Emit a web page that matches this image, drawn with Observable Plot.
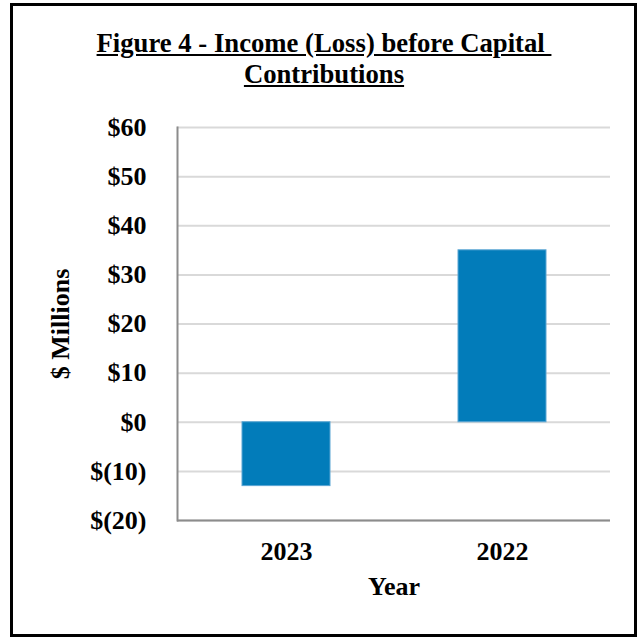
<!DOCTYPE html>
<html>
<head>
<meta charset="utf-8">
<script src="https://cdn.jsdelivr.net/npm/d3@7"></script>
<script src="https://cdn.jsdelivr.net/npm/@observablehq/plot@0.6"></script>
<style>
  html, body { margin: 0; padding: 0; background: #fff; }
  #wrap { position: relative; width: 639px; height: 637px; overflow: hidden; }
  #chart { position: absolute; left: 0; top: 0; }
  #border { position: absolute; left: 10px; top: 3px; width: 621px; height: 628px; border: 3px solid #000; pointer-events: none; }
  #title { position: absolute; left: 10px; top: 28px; width: 628px; text-align: center;
    font-family: "Liberation Serif", "Times New Roman", serif; font-weight: bold; font-size: 26.7px;
    line-height: 31px; text-decoration: underline; color: #000; }
</style>
</head>
<body>
<div id="wrap">
  <div id="chart"></div>
  <div id="title">Figure 4 - Income (Loss) before Capital&nbsp;<br>Contributions</div>
  <div id="border"></div>
</div>
<script>
const years = ["2023", "2022"];
const values = [-13, 35];
const yTicks = [-20, -10, 0, 10, 20, 30, 40, 50, 60];
const xTitle = "Year";
const yTitle = "$ Millions";

const data = years.map((year, i) => ({year, value: values[i]}));
const fmt = d => d < 0 ? `$(${-d})` : `$${d}`;

const chart = Plot.plot({
  width: 639,
  height: 637,
  marginTop: 127,
  marginBottom: 117,
  marginLeft: 177,
  marginRight: 29,
  style: {fontFamily: '"Liberation Serif", "Times New Roman", serif', fontSize: "26px", fontWeight: "bold", color: "#000", background: "transparent"},
  x: {domain: years, paddingInner: 0.594, paddingOuter: 0.297},
  y: {domain: [-20, 60]},
  marks: [
    Plot.ruleY(yTicks, {stroke: "#d9d9d9", strokeWidth: 2}),
    Plot.barY(data, {x: "year", y: "value", fill: "#027CBA", stroke: "#5AA6D4", strokeWidth: 1}),
    Plot.frame({anchor: "left", stroke: "#8c8c8c", strokeWidth: 2}),
    Plot.ruleY([-20], {stroke: "#8c8c8c", strokeWidth: 2}),
    Plot.axisX({tickSize: 0, tickPadding: 21, label: null}),
    Plot.axisY({ticks: yTicks, tickSize: 0, tickPadding: 31, tickFormat: fmt, label: null}),
    Plot.text([xTitle], {frameAnchor: "bottom", dy: 74, text: d => d}),
    Plot.text([yTitle], {frameAnchor: "left", textAnchor: "middle", dx: -117, rotate: -90, text: d => d})
  ]
});
document.getElementById("chart").appendChild(chart);
</script>
</body>
</html>
